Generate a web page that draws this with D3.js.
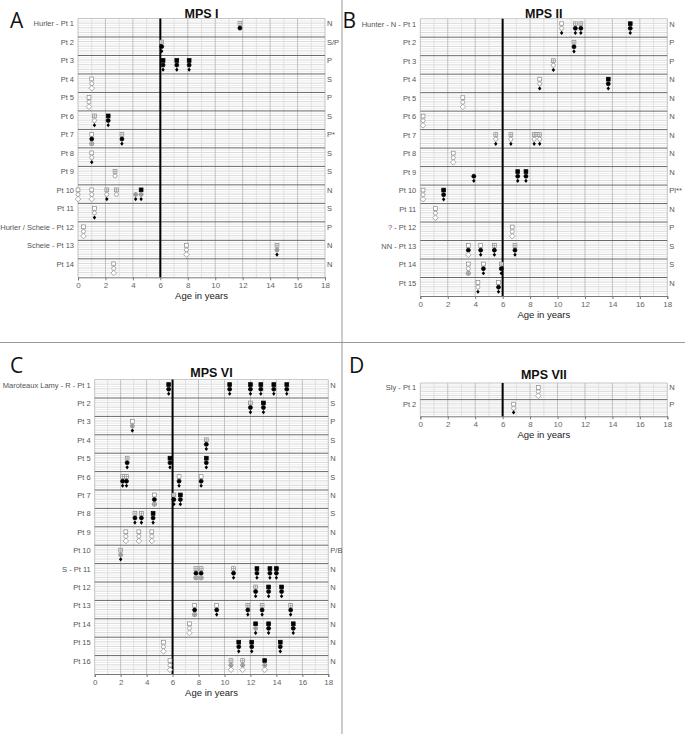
<!DOCTYPE html>
<html>
<head>
<script src="https://d3js.org/d3.v7.min.js" charset="utf-8"></script>
<style>
  body { margin: 0; background: #fff; }
  svg { font-family: "Liberation Sans", Arial, sans-serif; }
</style>
</head>
<body>
<svg id="chart" width="685" height="734"></svg>
<script>
// marker states: 0 = open, 1 = crossed, 2 = filled, null = not measured
// each visit: [age, square, circle, diamond]
const ageTicks = [0, 2, 4, 6, 8, 10, 12, 14, 16, 18];

const labelsA = ["Hurler - Pt 1", "Pt 2", "Pt 3", "Pt 4", "Pt 5", "Pt 6", "Pt 7", "Pt 8", "Pt 9",
  "Pt 10", "Pt 11", "Hurler / Scheie - Pt 12", "Scheie - Pt 13", "Pt 14"];
const severityA = ["N", "S/P", "P", "S", "P", "S", "P*", "S", "S", "N", "S", "P", "N", "N"];
const visitsA = [
  [[11.8, 1, 2, null]],
  [[6.1, 1, 2, 2]],
  [[6.2, 2, 2, 2], [7.2, 2, 2, 2], [8.1, 2, 2, 2]],
  [[1.0, 0, 0, 0]],
  [[0.8, 0, 0, 0]],
  [[1.2, 1, 0, 2], [2.2, 2, 2, 2]],
  [[1.0, 0, 2, 1], [3.2, 1, 2, 2]],
  [[1.0, 0, 0, 2]],
  [[2.7, 1, 0, null]],
  [[0.0, 0, 0, 0], [1.0, 0, 0, 0], [2.1, 1, 0, 2], [2.8, 1, 0, null], [4.2, null, 1, 2], [4.6, 2, 1, 2]],
  [[1.2, 0, 0, 2]],
  [[0.4, 0, 0, 0]],
  [[7.9, 0, 0, 0], [14.5, 1, 1, 2]],
  [[2.6, 0, 0, 0]]
];

const labelsB = ["Hunter - N - Pt 1", "Pt 2", "Pt 3", "Pt 4", "Pt 5", "Pt 6", "Pt 7", "Pt 8", "Pt 9",
  "Pt 10", "Pt 11", "? - Pt 12", "NN - Pt 13", "Pt 14", "Pt 15"];
const severityB = ["N", "P", "P", "N", "N", "N", "N", "N", "N", "Pl**", "N", "P", "S", "S", "N"];
const visitsB = [
  [[10.3, 0, 0, 2], [11.3, 1, 2, 2], [11.7, 1, 2, 2], [15.3, 2, 2, 2]],
  [[11.2, 1, 2, 2]],
  [[9.7, 1, 0, 2]],
  [[8.7, 0, 0, 2], [13.7, 2, 2, 2]],
  [[3.1, 0, 0, 0]],
  [[0.2, 0, 0, 0]],
  [[5.5, 1, 0, 2], [6.6, 1, 0, 2], [8.3, 1, 0, 2], [8.5, 1, null, null], [8.7, 1, 0, 2]],
  [[2.4, 0, 0, 0]],
  [[3.9, null, 2, 2], [7.1, 2, 2, 2], [7.7, 2, 2, 2]],
  [[0.2, 0, 0, 0], [1.7, 2, 2, 2]],
  [[1.1, 0, 0, 0]],
  [[6.7, 0, 0, 0]],
  [[3.5, 0, 2, 0], [4.4, 0, 2, 2], [5.4, 1, 2, 2], [6.9, 1, 2, 2]],
  [[3.5, 0, 0, 1], [4.6, 0, 2, 2], [5.9, 1, 2, 2]],
  [[4.2, 0, 0, 2], [5.7, 0, 2, 2]]
];

const labelsC = ["Maroteaux Lamy - R - Pt 1", "Pt 2", "Pt 3", "Pt 4", "Pt 5", "Pt 6", "Pt 7", "Pt 8",
  "Pt 9", "Pt 10", "S - Pt 11", "Pt 12", "Pt 13", "Pt 14", "Pt 15", "Pt 16"];
const severityC = ["N", "S", "P", "S", "N", "S", "N", "S", "N", "P/B", "N", "N", "N", "N", "N", "N"];
const visitsC = [
  [[5.7, 2, 2, 2], [10.4, 2, 2, 2], [12.0, 2, 2, 2], [12.8, 2, 2, 2], [13.8, 2, 2, 2], [14.8, 2, 2, 2]],
  [[12.0, 1, 2, 2], [13.0, 2, 2, 2]],
  [[2.9, 0, 1, 2]],
  [[8.6, 1, 2, 2]],
  [[2.5, 1, 2, 2], [5.8, 2, 2, 2], [8.6, 2, 2, 2]],
  [[2.15, 1, 2, 2], [2.45, 1, 2, 2], [6.5, 0, 2, 2], [8.2, 0, 2, 2]],
  [[4.6, 0, 2, 1], [6.1, 1, 2, 2], [6.6, 2, 2, 2]],
  [[3.1, 1, 2, 2], [3.6, 1, 2, 2], [4.5, 2, 2, 2]],
  [[2.4, 0, 0, 0], [3.4, 0, 0, 0], [4.4, 0, 0, 0]],
  [[2.0, 1, 1, 2]],
  [[7.8, 1, 2, 1], [8.2, 1, 2, 1], [10.7, 1, 2, 2], [12.5, 2, 2, 2], [13.5, 2, 2, 2], [14.0, 2, 2, 2]],
  [[12.4, 1, 2, 2], [13.4, 2, 2, 2], [14.4, 2, 2, 2]],
  [[7.7, 0, 2, 1], [9.4, 0, 2, 2], [11.8, 1, 2, 2], [12.9, 1, 2, 2], [15.1, 1, 2, 2]],
  [[7.3, 0, 0, 0], [12.4, 2, 1, 2], [13.4, 2, 2, 2], [15.3, 2, 2, 2]],
  [[5.3, 0, 0, 0], [11.1, 2, 2, 2], [12.1, 2, 2, 2], [14.3, 2, 2, 2]],
  [[5.8, 0, 0, 0], [10.5, 1, 1, 0], [11.4, 1, 1, 0], [13.1, 2, 1, 0]]
];

const labelsD = ["Sly - Pt 1", "Pt 2"];
const severityD = ["N", "P"];
const visitsD = [
  [[8.6, 0, 0, 0]],
  [[6.8, 0, 0, 2]]
];

const svg = d3.select("#chart");

// panel dividers
svg.append("line").attr("x1", 342).attr("x2", 342).attr("y1", 0).attr("y2", 734)
  .attr("stroke", "#999").attr("stroke-width", 1);
svg.append("line").attr("x1", 0).attr("x2", 685).attr("y1", 342.5).attr("y2", 342.5)
  .attr("stroke", "#999").attr("stroke-width", 1);

const GREY = "#8a8a8a";

function drawSquare(g, x, y, state) {
  const s = 1.9;
  g.append("rect").attr("x", x - s).attr("y", y - s).attr("width", 2 * s).attr("height", 2 * s)
    .attr("fill", state == 2 ? "#000" : "#fff")
    .attr("stroke", state == 2 ? "#000" : GREY).attr("stroke-width", 0.7);
  if (state == 1) {
    g.append("path").attr("d", `M${x - s},${y}H${x + s}M${x},${y - s}V${y + s}`)
      .attr("stroke", GREY).attr("stroke-width", 0.6);
  }
}

function drawCircle(g, x, y, state) {
  const r = 2.0;
  g.append("circle").attr("cx", x).attr("cy", y).attr("r", r)
    .attr("fill", state == 2 ? "#000" : (state == 1 ? "#bbb" : "#fff"))
    .attr("stroke", state == 2 ? "#000" : GREY).attr("stroke-width", 0.7);
  if (state == 1) {
    g.append("path").attr("d", `M${x - r},${y}H${x + r}M${x},${y - r}V${y + r}`)
      .attr("stroke", "#777").attr("stroke-width", 0.5);
  }
}

function drawDiamond(g, x, y, state) {
  if (state == 2) {
    g.append("path").attr("d", `M${x},${y - 2.1}L${x + 1.7},${y}L${x},${y + 2.1}L${x - 1.7},${y}Z`)
      .attr("fill", "#000");
  } else if (state == 1) {
    g.append("circle").attr("cx", x).attr("cy", y).attr("r", 2.2)
      .attr("fill", "#ccc").attr("stroke", GREY).attr("stroke-width", 0.7);
    g.append("path").attr("d", `M${x - 2.2},${y}H${x + 2.2}M${x},${y - 2.2}V${y + 2.2}`)
      .attr("stroke", "#777").attr("stroke-width", 0.5);
  } else {
    g.append("path").attr("d", `M${x},${y - 2.8}L${x + 2.8},${y}L${x},${y + 2.8}L${x - 2.8},${y}Z`)
      .attr("fill", "#fff").attr("stroke", GREY).attr("stroke-width", 0.7);
  }
}

function drawPanel(p) {
  const g = svg.append("g");
  const x = d3.scaleLinear().domain([0, 18]).range([p.x0, p.x1]);
  const y = d3.scaleBand().domain(p.labels.map((d, i) => i)).range([p.y0, p.y1]);
  const bh = y.bandwidth();

  // horizontal sub grid lines
  p.labels.forEach((d, i) => {
    for (let k = 1; k < 8; k++) {
      const yy = y(i) + bh * k / 8;
      g.append("line").attr("x1", p.x0).attr("x2", p.x1).attr("y1", yy).attr("y2", yy)
        .attr("stroke", k % 2 == 0 ? "#cfcfcf" : "#e6e6e6").attr("stroke-width", 0.8);
    }
  });

  // vertical grid
  d3.range(0, 19).forEach(a => {
    g.append("line").attr("x1", x(a)).attr("x2", x(a)).attr("y1", p.y0).attr("y2", p.y1)
      .attr("stroke", a % 2 == 0 ? "#b5b5b5" : "#dcdcdc").attr("stroke-width", 0.8);
  });

  // patient separators
  p.labels.forEach((d, i) => {
    const yy = y(i);
    g.append("line").attr("x1", p.x0).attr("x2", p.x1).attr("y1", yy).attr("y2", yy)
      .attr("stroke", i == 0 ? "#b5b5b5" : "#666").attr("stroke-width", i == 0 ? 0.8 : 1);
  });

  // bottom axis
  const axis = d3.axisBottom(x).tickValues(ageTicks).tickSize(3).tickPadding(2);
  const ax = g.append("g").attr("transform", `translate(0,${p.y1})`).call(axis);
  ax.select(".domain").attr("stroke", "#777");
  ax.selectAll(".tick line").attr("stroke", "#777");
  ax.selectAll("text").attr("fill", "#666").style("font-size", "8px");

  g.append("text").attr("x", (p.x0 + p.x1) / 2).attr("y", p.y1 + 22)
    .attr("text-anchor", "middle").style("font-size", "9.5px").attr("fill", "#222")
    .text("Age in years");

  // age 6 reference line
  g.append("line").attr("x1", x(6)).attr("x2", x(6)).attr("y1", p.y0).attr("y2", p.y1)
    .attr("stroke", "#000").attr("stroke-width", 2);

  // labels
  p.labels.forEach((d, i) => {
    g.append("text").attr("x", p.x0 - 4).attr("y", y(i) + bh * 0.27 + 3)
      .attr("text-anchor", "end").style("font-size", "7.5px").attr("fill", "#555").text(d);
    g.append("text").attr("x", p.x1 + 2).attr("y", y(i) + bh * 0.27 + 3)
      .style("font-size", "7.5px").attr("fill", "#555").text(p.severity[i]);
  });

  // markers
  p.visits.forEach((vs, i) => {
    vs.forEach(v => {
      const xx = x(v[0]);
      if (v[1] != null) drawSquare(g, xx, y(i) + bh * 0.27, v[1]);
      if (v[2] != null) drawCircle(g, xx, y(i) + bh * 0.52, v[2]);
      if (v[3] != null) drawDiamond(g, xx, y(i) + bh * 0.77, v[3]);
    });
  });

  // title and letter
  g.append("text").attr("x", (p.x0 + p.x1) / 2).attr("y", p.titleY)
    .attr("text-anchor", "middle").style("font-size", "12.5px").style("font-weight", "bold")
    .attr("fill", "#111").text(p.title);
  g.append("text").attr("x", p.lx).attr("y", p.ly)
    .style("font-size", "21px").attr("fill", "#111")
    .style("font-family", "'Open Sans', sans-serif").text(p.letter);
}

drawPanel({x0: 78, x1: 325, y0: 18.5, y1: 277.3, labels: labelsA, severity: severityA, visits: visitsA,
  title: "MPS I", titleY: 17.5, letter: "A", lx: 10, ly: 28});
drawPanel({x0: 420.3, x1: 667.3, y0: 18.7, y1: 296, labels: labelsB, severity: severityB, visits: visitsB,
  title: "MPS II", titleY: 17.5, letter: "B", lx: 342.5, ly: 28});
drawPanel({x0: 94.7, x1: 328.3, y0: 379.6, y1: 674, labels: labelsC, severity: severityC, visits: visitsC,
  title: "MPS VI", titleY: 377, letter: "C", lx: 10, ly: 373});
drawPanel({x0: 420.3, x1: 667.3, y0: 383, y1: 416.3, labels: labelsD, severity: severityD, visits: visitsD,
  title: "MPS VII", titleY: 379, letter: "D", lx: 349, ly: 373});
</script>
</body>
</html>
